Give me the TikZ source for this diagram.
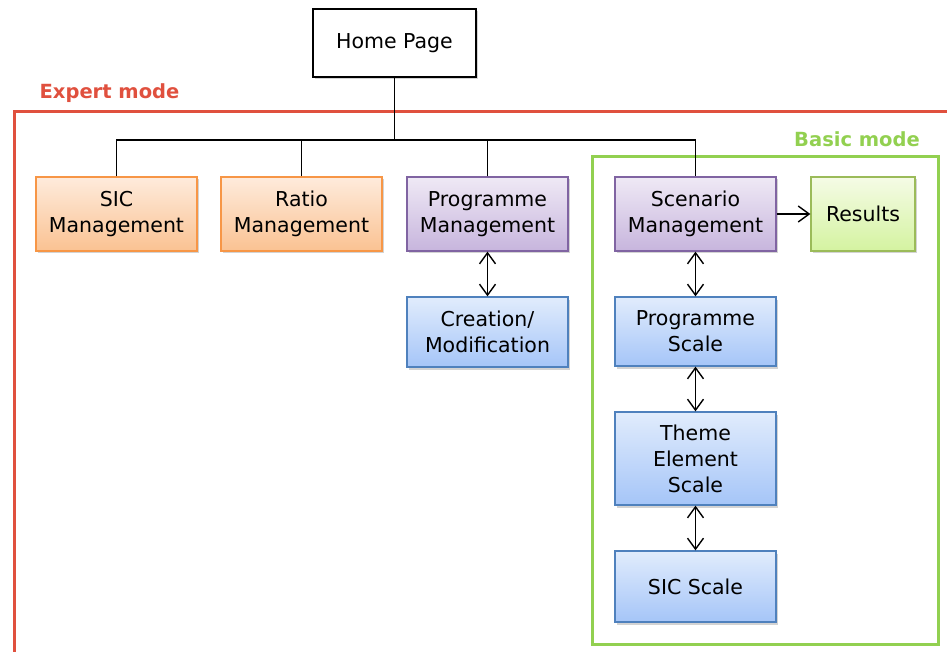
\documentclass[tikz,border=0pt]{standalone}
\usepackage{fontspec}
\setmainfont{DejaVu Sans}
\usetikzlibrary{arrows.meta,shadows}
\definecolor{oBorder}{HTML}{F79646}
\definecolor{oTop}{HTML}{FEEBDC}
\definecolor{oBot}{HTML}{FAC292}
\definecolor{pBorder}{HTML}{8064A2}
\definecolor{pTop}{HTML}{EFE9F5}
\definecolor{pBot}{HTML}{C7B5DD}
\definecolor{bBorder}{HTML}{4F81BD}
\definecolor{bTop}{HTML}{E1ECFC}
\definecolor{bBot}{HTML}{A5C5F8}
\definecolor{gBorder}{HTML}{9BBB59}
\definecolor{gTop}{HTML}{F5FBE6}
\definecolor{gBot}{HTML}{D4F3A0}
\definecolor{expertRed}{HTML}{E0503E}
\definecolor{basicGreen}{HTML}{92D050}
\begin{document}
\begin{tikzpicture}[x=1pt,y=-1pt,
  box/.style={rectangle, draw, line width=1.3pt, minimum width=161pt, minimum height=74pt,
    inner sep=0pt, align=center, font=\fontsize{20.5}{26}\selectfont,
    drop shadow={opacity=0.35, shadow xshift=1.5pt, shadow yshift=-2.5pt}},
  obox/.style={box, draw=oBorder, top color=oTop, bottom color=oBot},
  pbox/.style={box, draw=pBorder, top color=pTop, bottom color=pBot},
  bbox/.style={box, draw=bBorder, top color=bTop, bottom color=bBot},
  gbox/.style={box, draw=gBorder, top color=gTop, bottom color=gBot},
  conn/.style={line width=1.4pt, black},
  dbl/.style={conn, {Straight Barb[length=11pt,width=16pt,line width=1.4pt]}-{Straight Barb[length=11pt,width=16pt,line width=1.4pt]}},
  sgl/.style={conn, -{Straight Barb[length=11pt,width=16pt,line width=1.4pt]}},
  modelabel/.style={font=\bfseries\fontsize{19.5}{22}\selectfont, inner sep=0pt}
]
\useasboundingbox (0,0) rectangle (947,652);
% frames
\draw[expertRed, line width=3pt] (952,112) -- (14,112) -- (14,660);
\draw[basicGreen, line width=3pt] (592,157) rectangle (938,644);
\node[modelabel, text=expertRed] (expert) at (109.5,93) {Expert mode};
\node[modelabel, text=basicGreen] (basic) at (857,139) {Basic mode};
% nodes
\node[box, fill=white, minimum width=163pt, minimum height=68pt, drop shadow={opacity=0}] (home) at (394.5,43) {Home Page};
\node[obox] (sic) at (116.5,214) {SIC\\Management};
\node[obox] (ratio) at (301.5,214) {Ratio\\Management};
\node[pbox] (prog) at (487.5,214) {Programme\\Management};
\node[bbox, minimum height=70pt] (creat) at (487.5,332) {Creation/\\Modification};
\node[pbox] (scen) at (695.5,214) {Scenario\\Management};
\node[gbox, minimum width=104pt] (res) at (863,214) {Results};
\node[bbox, minimum height=69pt] (pscale) at (695.5,331.5) {Programme\\Scale};
\node[bbox, minimum height=93pt] (theme) at (695.5,458.5) {Theme\\Element\\Scale};
\node[bbox, minimum height=71pt] (sicscale) at (695.5,586.5) {SIC Scale};
% tree connectors
\coordinate (bus) at (394.5,140);
\draw[conn] (home.south) -- (bus);
\draw[conn] (sic.north) |- (bus) -| (scen.north);
\draw[conn] (ratio.north) -- (ratio.north |- bus);
\draw[conn] (prog.north) -- (prog.north |- bus);
% arrows
\draw[dbl] (prog.south) -- (creat.north);
\draw[dbl] (scen.south) -- (pscale.north);
\draw[dbl] (pscale.south) -- (theme.north);
\draw[dbl] (theme.south) -- (sicscale.north);
\draw[sgl] (scen.east) -- (res.west);
\end{tikzpicture}
\end{document}
